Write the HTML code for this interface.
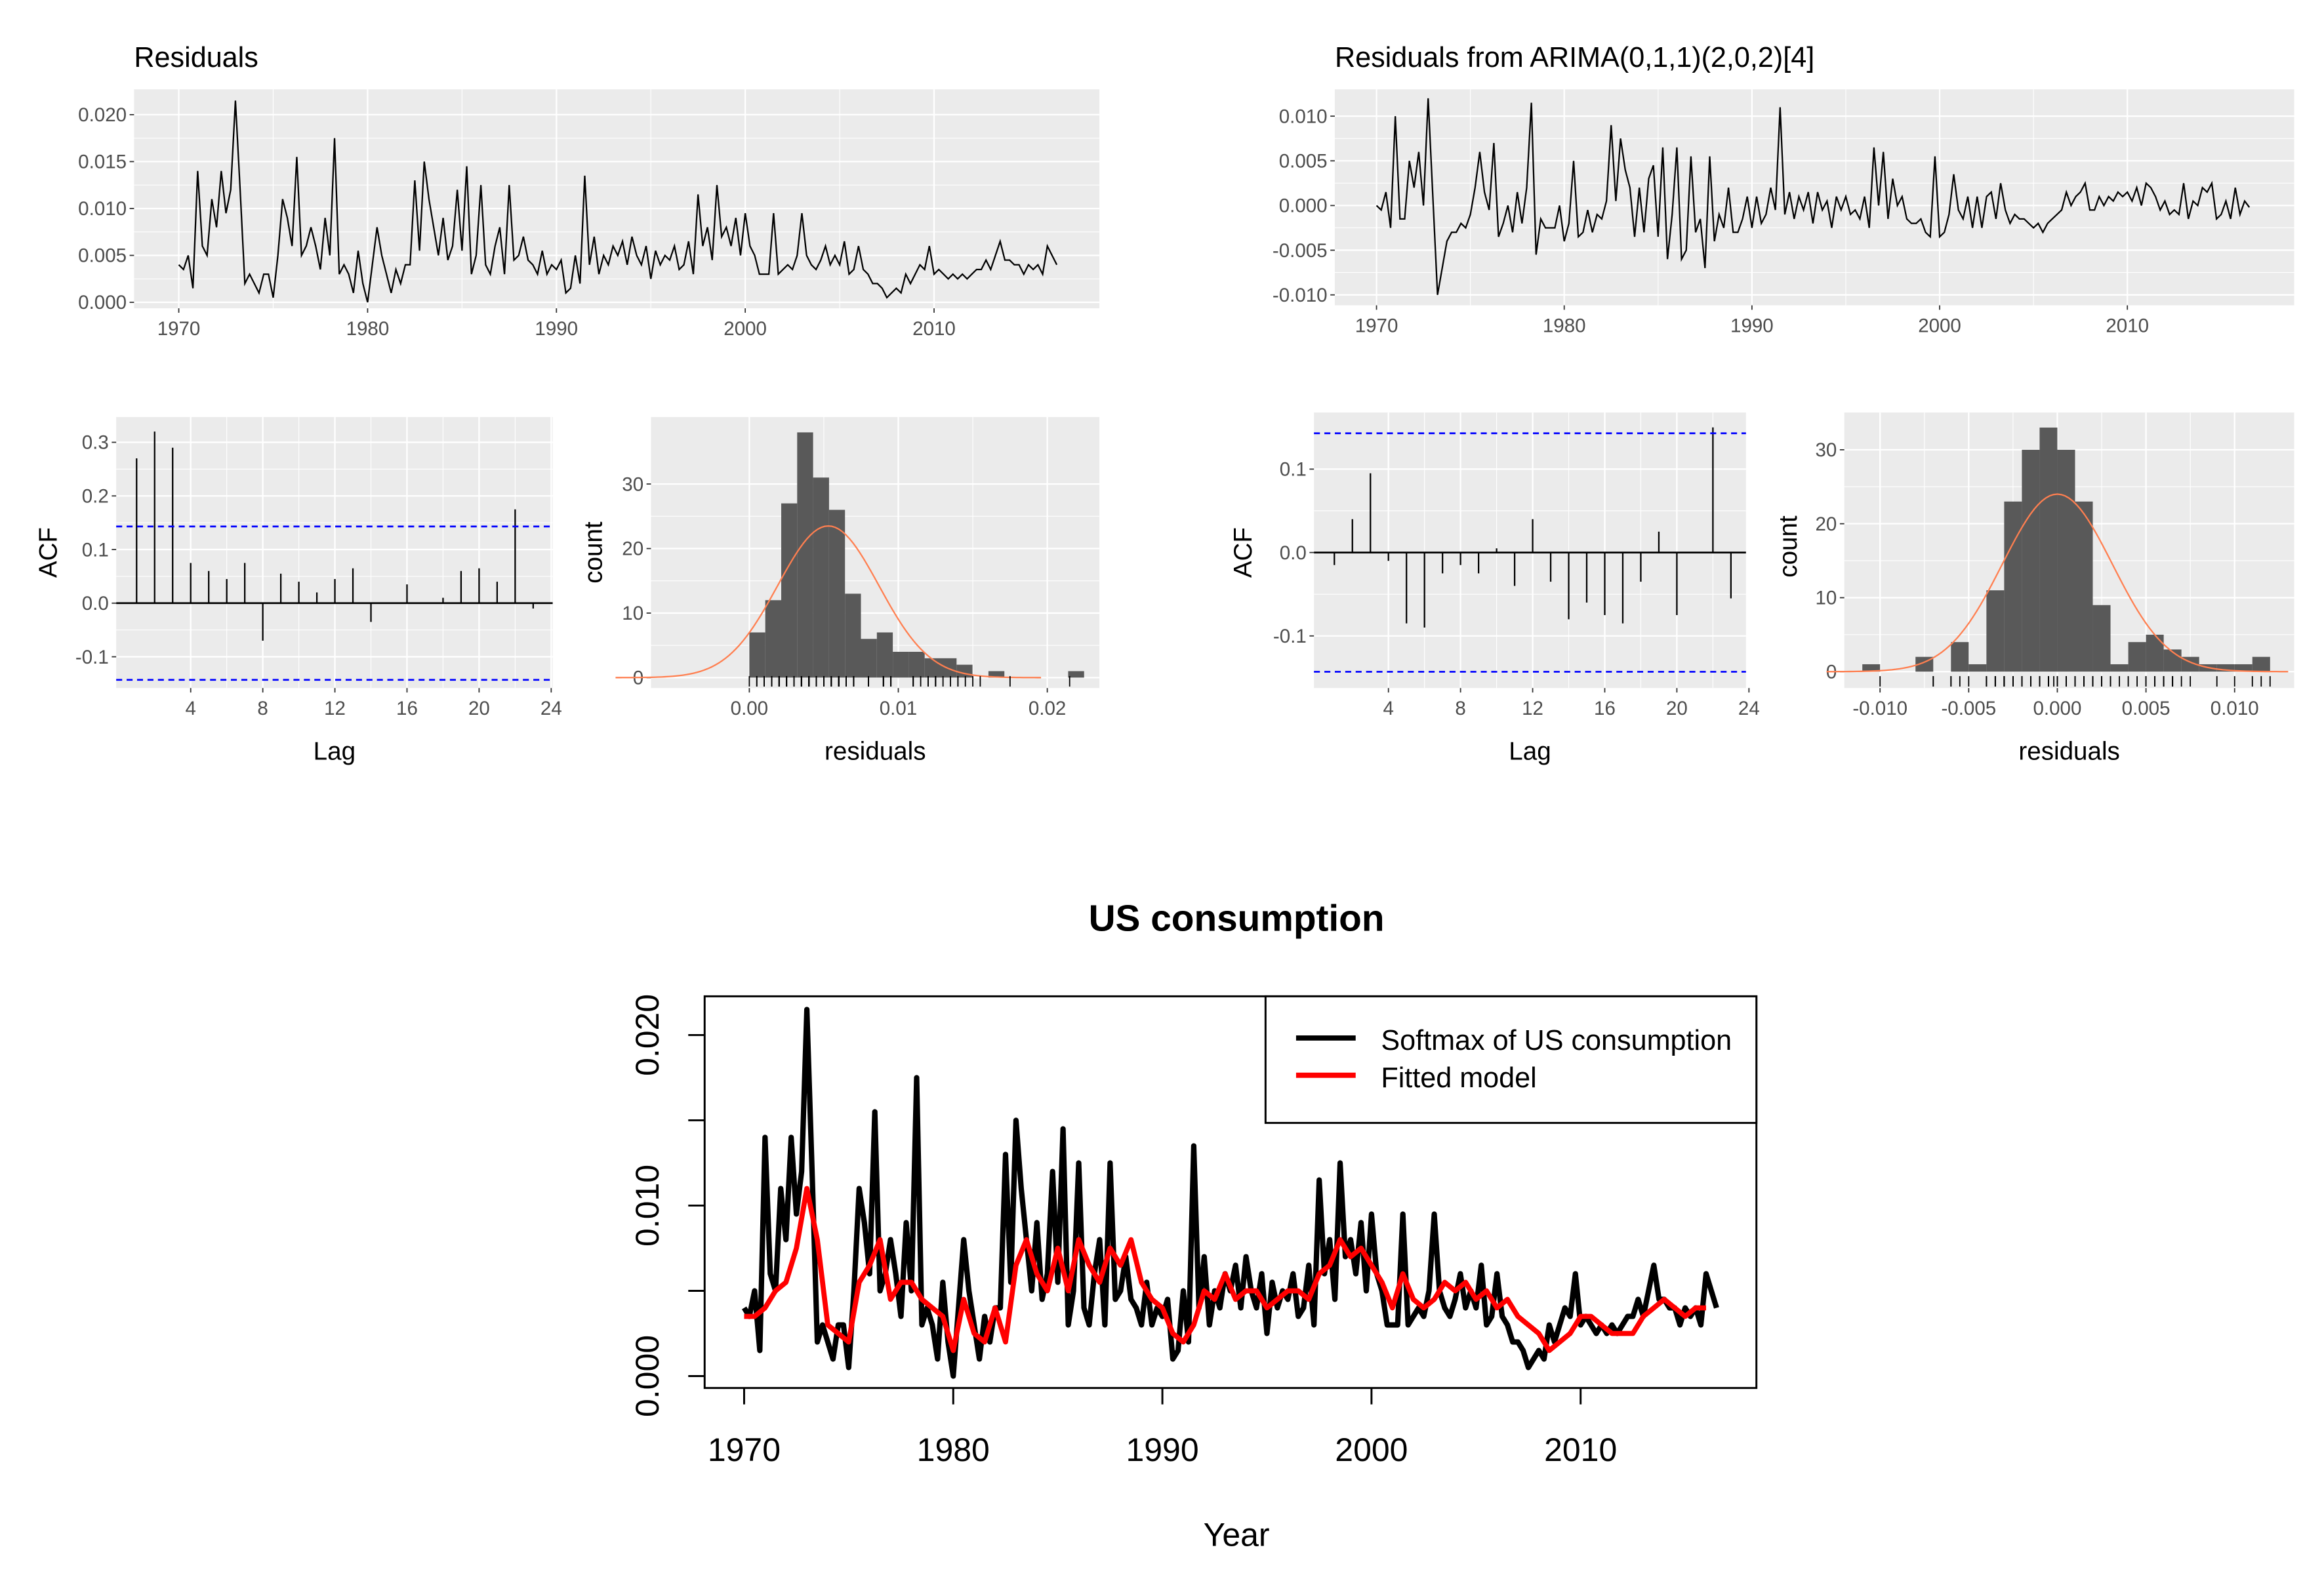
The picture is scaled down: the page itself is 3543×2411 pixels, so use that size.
<!DOCTYPE html>
<html><head><meta charset="utf-8">
<style>
html,body{margin:0;padding:0;background:#fff;}
svg{display:block;font-family:"Liberation Sans",Arial,sans-serif;}
</style></head>
<body>
<svg id="root" width="3543" height="2411" viewBox="0 0 1560 1061.6" preserveAspectRatio="none" xmlns="http://www.w3.org/2000/svg"></svg>
<script>
// ---------- DATA ----------
const startYear = 1970;
const residualsA = [
.004,.0035,.005,.0015, .014,.006,.005,.011, .008,.014,.0095,.012, .0215,.012,.002,.003,
.002,.001,.003,.003, .0005,.005,.011,.009, .006,.0155,.005,.006, .008,.006,.0035,.009,
.005,.0175,.003,.004, .003,.001,.0055,.002, .0,.004,.008,.005, .003,.001,.0035,.002,
.004,.004,.013,.0055, .015,.011,.008,.005, .009,.0045,.006,.012, .0055,.0145,.003,.005,
.0125,.004,.003,.006, .008,.003,.0125,.0045, .005,.007,.0045,.004, .003,.0055,.003,.004,
.0035,.0045,.001,.0015, .005,.002,.0135,.004, .007,.003,.005,.004, .006,.005,.0065,.004,
.007,.005,.004,.006, .0025,.0055,.004,.005, .0045,.006,.0035,.004, .0065,.003,.0115,.006,
.008,.0045,.0125,.007, .008,.006,.009,.005, .0095,.006,.005,.003, .003,.003,.0095,.003,
.0035,.004,.0035,.005, .0095,.005,.004,.0035, .0045,.006,.004,.005, .004,.0065,.003,.0035,
.006,.0035,.003,.002, .002,.0015,.0005,.001, .0015,.001,.003,.002, .003,.004,.0035,.006,
.003,.0035,.003,.0025, .003,.0025,.003,.0025, .003,.0035,.0035,.0045, .0035,.005,.0065,.0045,
.0045,.004,.004,.003, .004,.0035,.004,.003, .006,.005,.004];
const residualsB = [
0,-.0005,.0015,-.0025, .01,-.0015,-.0015,.005, .002,.006,0,.012, .001,-.010,-.007,-.004,
-.003,-.003,-.002,-.0025, -.001,.002,.006,.0015, -.0005,.007,-.0035,-.002, 0,-.003,.0015,-.002,
.002,.0115,-.0055,-.0015, -.0025,-.0025,-.0025,0, -.004,-.002,.005,-.0035, -.003,-.0005,-.003,-.001,
-.0015,.0005,.009,.0005, .0075,.004,.002,-.0035, .002,-.003,.003,.0045, -.0035,.0065,-.006,-.001,
.0065,-.006,-.005,.0055, -.003,-.0015,-.007,.0055, -.004,-.001,-.0025,.002, -.003,-.003,-.0015,.001,
-.0025,.001,-.002,-.001, .002,-.0005,.011,-.001, .0015,-.0015,.001,-.0005, .0015,-.002,.0015,-.0005,
.0005,-.0025,.001,-.0005, .001,-.001,-.0005,-.0015, .001,-.0025,.0065,0, .006,-.0015,.003,0,
.001,-.0015,-.002,-.002, -.0015,-.003,-.0035,.0055, -.0035,-.003,-.001,.0035, -.0005,-.0015,.001,-.0025,
.001,-.0025,.001,.0015, -.0015,.0025,-.0005,-.002, -.001,-.0015,-.0015,-.002, -.0025,-.002,-.003,-.002,
-.0015,-.001,-.0005,.0015, 0,.001,.0015,.0025, -.0005,-.0005,.001,0, .001,.0005,.0015,.001,
.0015,.0005,.002,0, .0025,.002,.001,-.0005, .0005,-.001,-.0005,-.001, .0025,-.0015,.0005,0,
.002,.0015,.0025,-.0015, -.001,.0005,-.0015,.002, -.001,.0005,-.0002];
const fittedSemiAnnual = [
.0035,.0035, .004,.005, .0055,.0075, .011,.008, .003,.0025, .002,.0055, .0065,.008, .0045,.0055,
.0055,.0045, .004,.0035, .0015,.0045, .0025,.002, .004,.002, .0065,.008, .006,.005, .0075,.005,
.008,.0065, .0055,.0075, .0065,.008, .0055,.0045, .004,.0025, .002,.003, .005,.0045, .006,.0045,
.005,.005, .004,.0045, .005,.005, .0045,.006, .0065,.008, .007,.0075, .0065,.0055, .004,.006,
.0045,.004, .0045,.0055, .005,.0055, .0045,.005, .004,.0045, .0035,.003, .0025,.0015, .002,.0025,
.0035,.0035, .003,.0025, .0025,.0025, .0035,.004, .0045,.004, .0035,.004, .004];
const acfA = [.27,.32,.29,.075,.06,.045,.075,-.07,.055,.04,.02,.045,.065,-.035,0,.035,0,.01,.06,.065,.04,.175,-.01];
const acfB = [-.015,.04,.095,-.01,-.085,-.09,-.025,-.015,-.025,.005,-.04,.04,-.035,-.08,-.06,-.075,-.085,-.035,.025,-.075,0,.15,-.055];
const histACounts = [7,12,27,38,31,26,13,6,7,4,4,3,3,2,0,1,0,0,0,0,1];
const histAStart = 0.0, histAWidth = 0.00107;
const histBCounts = [1,0,0,2,0,4,1,11,23,30,33,30,23,9,1,4,5,3,2,1,1,1,2];
const histBStart = -0.011, histBWidth = 0.001;
const acfBound = 0.143;
const normA = {mean:0.0053, sd:0.0034, peak:23.5};
const normB = {mean:0.0, sd:0.0031, peak:24};
const yearTicks = [1970,1980,1990,2000,2010];
const resATicks = [0,0.005,0.01,0.015,0.02], resATickLabels = ["0.000","0.005","0.010","0.015","0.020"];
const resBTicks = [-0.01,-0.005,0,0.005,0.01], resBTickLabels = ["-0.010","-0.005","0.000","0.005","0.010"];
const lagTicks = [4,8,12,16,20,24];
const acfATicks = [-0.1,0,0.1,0.2,0.3], acfATickLabels = ["-0.1","0.0","0.1","0.2","0.3"];
const acfBTicks = [-0.1,0,0.1], acfBTickLabels = ["-0.1","0.0","0.1"];
const histATicks = [0,0.01,0.02], histATickLabels = ["0.00","0.01","0.02"];
const histAYTicks = [0,10,20,30];
const histBTicks = [-0.01,-0.005,0,0.005,0.01], histBTickLabels = ["-0.010","-0.005","0.000","0.005","0.010"];
const histBYTicks = [0,10,20,30];
const bottomYTicks = [0,0.005,0.01,0.015,0.02], bottomYLabels = {0:"0.000",0.01:"0.010",0.02:"0.020"};

// ---------- HELPERS ----------
const NS="http://www.w3.org/2000/svg";
const root=document.getElementById('root');
function mk(tag,attrs,parent,text){const e=document.createElementNS(NS,tag);for(const k in attrs)e.setAttribute(k,attrs[k]);if(text!==undefined)e.textContent=text;(parent||root).appendChild(e);return e;}
function lin(d0,d1,r0,r1){return v=>r0+(v-d0)*(r1-r0)/(d1-d0);}
const qt=i=>startYear+i*0.25;
const st=i=>startYear+i*0.5;

function ggPanel(name,x0,y0,x1,y1,xs,ys,xt,xl,yt,yl){
  const g=mk('g',{});
  
  
  mk('rect',{x:x0,y:y0,width:x1-x0,height:y1-y0,fill:'#ebebeb'},g);
  for(let i=0;i<yt.length-1;i++){const y=ys((yt[i]+yt[i+1])/2);mk('line',{x1:x0,x2:x1,y1:y,y2:y,stroke:'#fff','stroke-width':0.5},g);}
  for(let i=0;i<xt.length-1;i++){const x=xs((xt[i]+xt[i+1])/2);if(x>x0&&x<x1)mk('line',{x1:x,x2:x,y1:y0,y2:y1,stroke:'#fff','stroke-width':0.5},g);}
  yt.forEach((v,i)=>{const y=ys(v);mk('line',{x1:x0,x2:x1,y1:y,y2:y,stroke:'#fff','stroke-width':1},g);
    mk('line',{x1:x0-3,x2:x0,y1:y,y2:y,stroke:'#333','stroke-width':0.8},g);
    const t=mk('text',{x:x0-5,y:y+4.5,'text-anchor':'end','font-size':13,fill:'#4d4d4d'},g,yl[i]);
    });
  xt.forEach((v,i)=>{const x=xs(v);if(x>=x0-1&&x<=x1+1)mk('line',{x1:x,x2:x,y1:y0,y2:y1,stroke:'#fff','stroke-width':1},g);
    mk('line',{x1:x,x2:x,y1:y1,y2:y1+3,stroke:'#333','stroke-width':0.8},g);
    const t=mk('text',{x:x,y:y1+18,'text-anchor':'middle','font-size':13,fill:'#4d4d4d'},g,xl[i]);
    });
  return g;
}
function linePath(vals,tf,xs,ys){return vals.map((v,i)=>(i?'L':'M')+xs(tf(i)).toFixed(2)+','+ys(v).toFixed(2)).join('');}

// ---------- TOP LEFT RESIDUALS ----------
let t=mk('text',{x:90,y:45,'font-size':19},root,'Residuals');

{const xs=lin(1970,2010,120,627),ys=lin(0,0.02,203,77);
 const g=ggPanel('residuals-panel',90,60,738,207,xs,ys,yearTicks,yearTicks.map(String),resATicks,resATickLabels);
 const p=mk('path',{d:linePath(residualsA,qt,xs,ys),fill:'none',stroke:'#000','stroke-width':1},g);
 }

// ---------- TOP RIGHT ----------
t=mk('text',{x:896,y:45,'font-size':19},root,'Residuals from ARIMA(0,1,1)(2,0,2)[4]');

{const xs=lin(1970,2010,924,1428),ys=lin(-0.01,0.01,198,78);
 const g=ggPanel('arima-residuals-panel',896,60,1540,205,xs,ys,yearTicks,yearTicks.map(String),resBTicks,resBTickLabels);
 const p=mk('path',{d:linePath(residualsB,qt,xs,ys),fill:'none',stroke:'#000','stroke-width':1},g);
 }

// ---------- ACF ----------
function acfPanel(name,x0,y0,x1,y1,vals,yt,yl,y0v,ys){
  const xs=lin(4,24,x0+(128-78),x0+(370-78));
  const g=ggPanel(name,x0,y0,x1,y1,xs,ys,lagTicks,lagTicks.map(String),yt,yl);
  mk('line',{x1:x0,x2:x1,y1:ys(0),y2:ys(0),stroke:'#000','stroke-width':1.2},g);
  vals.forEach((v,i)=>{const b=mk('line',{x1:xs(i+1),x2:xs(i+1),y1:ys(0),y2:ys(v),stroke:'#000','stroke-width':1},g);
    });
  [acfBound,-acfBound].forEach(v=>{const l=mk('line',{x1:x0,x2:x1,y1:ys(v),y2:ys(v),stroke:'#0000ff','stroke-width':1.2,'stroke-dasharray':'4,3'},g);
    });
  const lx=mk('text',{x:(x0+x1)/2,y:y1+48,'text-anchor':'middle','font-size':17},g,'Lag');
  
  return g;
}
acfPanel('acf-panel-left',78,280,371,462,acfA,acfATicks,acfATickLabels,0,lin(0,0.3,405,297));
t=mk('text',{x:38,y:371,'text-anchor':'middle','font-size':17,transform:'rotate(-90 38 371)'},root,'ACF');

acfPanel('acf-panel-right',882,277,1172,462,acfB,acfBTicks,acfBTickLabels,0,lin(0,0.1,371,315));
t=mk('text',{x:840,y:371,'text-anchor':'middle','font-size':17,transform:'rotate(-90 840 371)'},root,'ACF');


// ---------- HISTOGRAMS ----------
function histPanel(name,x0,y0,x1,y1,xs,ys,counts,start,w,xt,xl,yt,norm,resid){
  const g=ggPanel(name,x0,y0,x1,y1,xs,ys,xt,xl,yt,yt.map(String));
  counts.forEach((c,i)=>{if(c<=0)return;const a=xs(start+i*w),b=xs(start+(i+1)*w);
    const r=mk('rect',{x:a,y:ys(c),width:b-a,height:ys(0)-ys(c),fill:'#595959'},g);
    });
  let d='';const lo=norm.mean-4.2*norm.sd,hi=norm.mean+4.2*norm.sd;
  for(let k=0;k<=120;k++){const v=lo+(hi-lo)*k/120;const c=norm.peak*Math.exp(-0.5*Math.pow((v-norm.mean)/norm.sd,2));d+=(k?'L':'M')+xs(v).toFixed(2)+','+ys(c).toFixed(2);}
  const c=mk('path',{d:d,fill:'none',stroke:'#ff7f50','stroke-width':1},g);
  
  resid.forEach(v=>{mk('line',{x1:xs(v),x2:xs(v),y1:y1-1,y2:y1-8,stroke:'#000','stroke-width':0.8},g);});
  const lx=mk('text',{x:(x0+x1)/2,y:y1+48,'text-anchor':'middle','font-size':17},g,'residuals');
  
}
histPanel('histogram-left',437,280,738,462,lin(0,0.02,503,703),lin(0,30,455,325),histACounts,histAStart,histAWidth,histATicks,histATickLabels,histAYTicks,normA,residualsA);
t=mk('text',{x:404,y:371,'text-anchor':'middle','font-size':17,transform:'rotate(-90 404 371)'},root,'count');

histPanel('histogram-right',1238,277,1540,462,lin(-0.01,0.01,1262,1500),lin(0,30,451,302),histBCounts,histBStart,histBWidth,histBTicks,histBTickLabels,histBYTicks,normB,residualsB);
t=mk('text',{x:1206,y:367,'text-anchor':'middle','font-size':17,transform:'rotate(-90 1206 367)'},root,'count');


// ---------- BOTTOM BASE PLOT ----------
{const X0=473,X1=1179,Y0=669,Y1=932;
 const xs=lin(1970,2010,499.5,1061),ys=lin(0,0.02,924,695);
 const g=mk('g',{});
 
 
 const tt=mk('text',{x:830,y:625,'text-anchor':'middle','font-size':25,'font-weight':'bold'},g,'US consumption');
 
 const bl=mk('path',{d:linePath(residualsA,qt,xs,ys),fill:'none',stroke:'#000','stroke-width':3.6,'stroke-linejoin':'round'},g);
 
 const rl=mk('path',{d:linePath(fittedSemiAnnual,st,xs,ys),fill:'none',stroke:'#ff0000','stroke-width':3.4,'stroke-linejoin':'round'},g);
 
 mk('rect',{x:X0,y:Y0,width:X1-X0,height:Y1-Y0,fill:'none',stroke:'#000','stroke-width':1.3},g);
 bottomYTicks.forEach(v=>{const y=ys(v);mk('line',{x1:X0-11,x2:X0,y1:y,y2:y,stroke:'#000','stroke-width':1.3},g);
   if(bottomYLabels[v]){const l=mk('text',{x:0,y:0,'text-anchor':'middle','font-size':22,transform:'translate(442,'+y+') rotate(-90)'},g,bottomYLabels[v]);
   }});
 yearTicks.forEach(v=>{const x=xs(v);mk('line',{x1:x,x2:x,y1:Y1,y2:Y1+11,stroke:'#000','stroke-width':1.3},g);
   const l=mk('text',{x:x,y:981,'text-anchor':'middle','font-size':22},g,String(v));
   });
 const yl=mk('text',{x:830,y:1038,'text-anchor':'middle','font-size':22},g,'Year');
 
 const lg=mk('g',{},g);
 
 
 mk('rect',{x:849.5,y:Y0,width:X1-849.5,height:754-Y0,fill:'#fff',stroke:'#000','stroke-width':1.3},lg);
 mk('line',{x1:870,x2:910,y1:697,y2:697,stroke:'#000','stroke-width':3.5},lg);
 mk('line',{x1:870,x2:910,y1:722,y2:722,stroke:'#ff0000','stroke-width':3.5},lg);
 const e1=mk('text',{x:927,y:705,'font-size':19},lg,'Softmax of US consumption');
 
 const e2=mk('text',{x:927,y:730,'font-size':19},lg,'Fitted model');
 
}
</script>
</body></html>
